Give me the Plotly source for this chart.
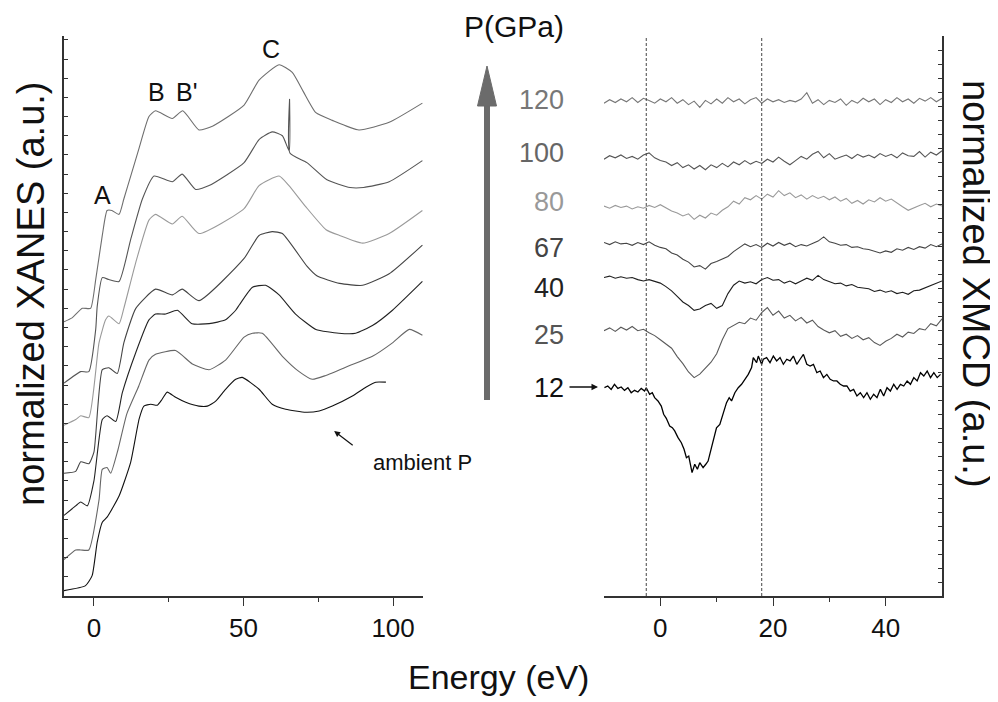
import plotly.graph_objects as go

# ---------------- XANES (left panel) ----------------
xanes_labels = ["120", "100", "80", "67", "40", "25", "ambient"]
xanes_colors = ["#6e6e6e", "#555555", "#9a9a9a", "#444444", "#222222", "#666666", "#111111"]

e_120 = [-10, -7.3, -3.9, -1.1, 0.6, 2.8, 4.4, 6.0, 8.4, 10.0, 12.5, 15.0, 18.4, 20.6, 26.2, 29.7, 35.1, 39.6,
         50.2, 55.2, 61.9, 66.3, 70.0, 74.2, 79.7, 88.6, 98.7, 109.8]
y_120 = [14.3, 14.5, 15.0, 15.0, 16.5, 18.8, 20.1, 20.1, 19.9, 20.7, 22.0, 23.3, 25.0, 25.3, 24.9, 25.3, 24.3, 24.5,
         25.6, 26.9, 27.7, 27.3, 26.3, 25.2, 24.8, 24.3, 24.7, 25.7]

e_100 = [-10, -4.4, -1.7, 0.6, 1.1, 2.8, 5.0, 8.4, 12.3, 16.2, 20.1, 26.2, 29.5, 34.0, 38.5, 50.2, 55.2, 59.6,
         63.0, 65.3, 65.4, 65.5, 71.2, 77.9, 85.6, 90.1, 98.7, 109.8]
y_100 = [11.1, 11.7, 11.7, 13.9, 15.1, 16.6, 16.5, 16.4, 18.6, 20.7, 21.9, 21.6, 22.0, 21.2, 21.4, 22.6, 23.8, 24.2,
         24.0, 23.2, 25.9, 23.1, 22.6, 21.7, 21.3, 21.3, 21.6, 22.7]

e_80 = [-10, -6.1, -4.4, -1.7, 1.7, 3.9, 5.0, 8.4, 10.0, 14.0, 18.4, 20.6, 26.2, 29.5, 35.1, 50.2, 55.2, 61.9,
        65.2, 70.8, 77.6, 82.1, 89.8, 98.7, 109.8]
y_80 = [8.9, 9.2, 9.4, 9.3, 13.2, 14.4, 14.6, 14.2, 15.0, 17.4, 19.6, 19.9, 19.4, 19.8, 18.9, 20.2, 21.4, 21.9,
        21.4, 20.3, 19.1, 18.8, 18.4, 18.9, 20.1]

e_67 = [-10, -6.1, -4.4, -1.7, 0.0, 2.8, 5.0, 7.8, 10.0, 14.0, 20.6, 26.2, 29.5, 35.1, 50.2, 55.2, 59.6, 63.0,
        71.2, 74.5, 82.1, 89.8, 98.7, 109.8]
y_67 = [6.4, 6.5, 7.0, 6.9, 7.5, 11.8, 11.9, 11.6, 13.2, 15.0, 16.0, 15.7, 16.0, 15.4, 17.6, 18.8, 19.0, 18.9,
        17.2, 16.7, 16.3, 16.2, 16.8, 18.3]

e_40 = [-10, -6.1, -4.4, -2.2, 0.0, 2.8, 4.4, 7.3, 9.5, 14.0, 18.4, 20.6, 24.0, 27.9, 32.8, 38.5, 44.0, 47.4,
        48.7, 53.0, 57.4, 61.9, 67.4, 74.2, 81.9, 87.5, 93.1, 99.8, 109.8]
y_40 = [4.2, 4.7, 4.9, 4.7, 6.0, 9.2, 9.4, 9.1, 10.6, 12.7, 14.4, 14.7, 14.7, 14.9, 14.2, 14.2, 14.4, 14.9,
        15.2, 16.1, 16.2, 15.7, 14.7, 13.9, 13.7, 13.7, 14.1, 14.9, 16.4]

e_25 = [-10, -6.1, -4.4, -1.7, 1.7, 2.8, 4.4, 5.6, 8.0, 11.0, 15.0, 18.4, 20.6, 27.3, 32.9, 38.5, 44.0, 50.2,
        53.0, 56.3, 63.0, 68.6, 73.0, 77.5, 85.3, 93.1, 99.8, 105.4, 109.8]
y_25 = [1.9, 2.4, 2.4, 2.4, 5.0, 6.6, 6.7, 6.4, 7.6, 9.5, 10.95, 12.3, 12.6, 12.8, 12.1, 11.8, 12.3, 13.5,
        13.7, 13.7, 12.5, 11.7, 11.3, 11.5, 12.0, 12.5, 13.2, 13.9, 13.6]

e_amb = [-10, -2.8, -0.6, 1.1, 2.8, 4.4, 8.4, 12.3, 15.1, 16.7, 19.0, 21.2, 22.8, 24.5, 27.3, 30.7, 35.1, 37.9,
         40.7, 44.0, 47.4, 49.6, 55.2, 59.6, 64.1, 70.8, 75.3, 79.7, 86.4, 90.9, 94.2, 97.6]
y_amb = [0.28, 0.54, 1.06, 2.81, 3.85, 4.11, 5.21, 6.98, 9.22, 9.9, 10.0, 9.95, 10.26, 10.63, 10.36, 10.1, 9.9, 9.9,
         10.16, 10.78, 11.3, 11.4, 10.78, 10.0, 9.74, 9.58, 9.65, 9.91, 10.43, 10.89, 11.15, 11.15]

xanes_e = [e_120, e_100, e_80, e_67, e_40, e_25, e_amb]
xanes_y = [y_120, y_100, y_80, y_67, y_40, y_25, y_amb]

# ---------------- XMCD (right panel) ----------------
xmcd_labels = ["120", "100", "80", "67", "40", "25", "12"]
xmcd_colors = ["#777777", "#555555", "#999999", "#444444", "#1e1e1e", "#5a5a5a", "#000000"]

# common energy grid (eV) for the 120 ... 25 GPa spectra
m_grid = [-10, -9, -8, -7, -6, -5, -4, -3, -2, -1, 0, 1, 2, 3, 4, 5, 6, 7, 8, 9, 10,
          11, 12, 13, 14, 15, 16, 17, 18, 19, 20, 21, 22, 23, 24, 25, 26, 27, 28, 29, 30,
          31, 32, 33, 34, 35, 36, 37, 38, 39, 40, 41, 42, 43, 44, 45, 46, 47, 48, 49, 50]

m_y_120 = [35.2, 35.45, 35.25, 35.5, 35.3, 35.6, 35.25, 35.55, 35.4, 35.2, 35.5, 35.3, 35.6, 35.2, 35.45,
           35.1, 35.35, 34.9, 35.4, 35.15, 35.5, 35.2, 35.6, 35.3, 35.5, 35.15, 35.45, 35.6, 35.2, 35.5,
           35.3, 35.45, 35.25, 35.4, 35.3, 35.5, 35.95, 35.2, 35.45, 35.1, 35.4, 35.25, 35.5, 35.05, 35.4,
           35.2, 35.55, 35.3, 35.5, 35.1, 35.45, 35.25, 35.6, 35.3, 35.5, 35.2, 35.55, 35.35, 35.6, 35.3, 35.55]

m_y_100 = [31.2, 31.45, 31.3, 31.5, 31.25, 31.4, 31.2, 31.5, 31.65, 31.3, 31.1, 31.0, 30.75, 30.95, 30.6,
           30.8, 30.5, 30.75, 30.45, 30.8, 30.6, 30.9, 30.65, 31.0, 30.8, 31.1, 30.85, 31.05, 30.9, 31.2,
           31.0, 31.35, 31.05, 30.8, 31.1, 31.4, 31.2, 31.55, 31.75, 31.3, 31.6, 31.2, 31.35, 31.5, 31.25,
           31.55, 31.35, 31.5, 31.3, 31.6, 31.4, 31.55, 31.3, 31.65, 31.45, 31.4, 31.75, 31.35, 31.7, 31.5, 31.8]

m_y_80 = [27.85, 27.7, 27.9, 27.75, 27.85, 27.65, 27.8, 27.7, 27.9, 27.75, 27.95, 27.7, 27.5, 27.35, 27.15,
          27.3, 26.9, 27.2, 27.0, 27.35, 27.2, 27.55, 27.8, 28.2, 28.0, 28.45, 28.3, 28.6, 28.35, 28.7,
          28.5, 28.95, 28.6, 28.8, 28.45, 28.65, 28.35, 28.6, 28.4, 28.55, 28.3, 28.5, 28.2, 28.4, 28.05,
          28.25, 28.0, 28.3, 28.15, 28.45, 28.2, 28.35, 28.05, 27.8, 27.55, 27.75, 27.9, 28.05, 27.8, 28.0, 27.85]

m_y_67 = [25.25, 25.1, 25.3, 25.15, 25.2, 25.05, 25.25, 25.1, 25.3, 25.05, 24.9, 24.8, 24.5, 24.35, 24.05,
          23.85, 23.5, 23.6, 23.35, 23.75, 23.9, 24.1, 24.25, 24.6, 24.85, 25.15, 24.95, 25.1, 24.9, 25.2,
          25.0, 25.25, 25.05, 25.2, 24.95, 25.1, 25.0, 25.2, 25.35, 25.65, 25.3, 25.2, 25.05, 25.1, 24.9,
          24.95, 24.8, 24.75, 24.6, 24.5, 24.65, 24.55, 24.8, 24.7, 24.9, 24.75, 24.95, 24.85, 25.1, 24.95, 25.15]

m_y_40 = [22.75, 22.85, 22.7, 22.8, 22.7, 22.75, 22.6, 22.5, 22.6, 22.45, 22.35, 22.1, 21.8, 21.4, 21.0,
          20.75, 20.4, 20.5, 20.75, 20.9, 20.55, 20.75, 21.6, 22.2, 22.5, 22.35, 22.45, 22.3, 22.6, 22.75,
          22.55, 22.6, 22.35, 22.5, 22.3, 22.5, 22.7, 22.55, 22.9, 22.6, 22.45, 22.3, 22.35, 22.15, 22.25,
          22.05, 22.0, 21.95, 21.75, 21.85, 21.7, 21.8, 21.6, 21.7, 21.55, 21.8, 21.85, 22.0, 22.2, 22.3, 22.5]

m_y_25 = [18.95, 19.15, 18.9, 19.2, 19.0, 19.25, 18.95, 19.05, 18.8, 18.6, 18.3, 18.0, 17.7, 17.1, 16.6,
          16.0, 15.6, 15.85, 16.3, 16.7, 17.3, 18.3, 19.1, 19.3, 19.55, 19.45, 19.85, 19.7, 20.25, 20.6,
          20.05, 20.35, 19.85, 20.05, 19.65, 19.9, 19.5, 19.7, 19.25, 19.0, 18.8, 18.95, 18.55, 18.7, 18.4,
          18.6, 18.3, 18.45, 18.1, 17.9, 18.2, 18.4, 18.7, 18.5, 18.85, 18.75, 19.1, 19.0, 19.45, 19.3, 19.8]

# 12 GPa spectrum read at finer steps
m_e_12 = [-9.92, -9.33, -8.73, -8.14, -7.54, -6.95, -6.36, -5.76, -5.17, -4.58, -3.98, -3.39, -2.80, -2.50,
          -1.90, -1.43, -1.01, -0.42, 0.17, 0.59, 1.06, 1.66, 2.13, 2.55, 3.14, 3.73, 4.21, 4.63, 5.04, 5.40,
          5.63, 6.11, 6.58, 7.00, 7.59, 8.07, 8.48, 9.08, 9.97, 10.56, 11.16, 11.75, 12.22, 12.64, 13.23,
          13.83, 14.42, 15.01, 15.61, 16.20, 16.50, 17.09, 17.39, 17.98, 18.28, 18.87, 19.47, 20.06, 20.65,
          21.25, 21.84, 22.44, 23.03, 23.62, 24.22, 24.81, 25.40, 26.00, 26.59, 27.18, 27.78, 28.37, 28.96,
          29.56, 30.15, 30.75, 31.34, 31.93, 32.53, 33.12, 33.71, 34.31, 34.90, 35.50, 36.09, 36.68, 37.28,
          37.87, 38.46, 39.06, 39.65, 40.24, 40.84, 41.43, 42.03, 42.62, 43.21, 43.81, 44.40, 44.99, 45.59,
          46.18, 46.77, 47.37, 47.96, 48.55, 49.15, 49.74]
m_y_12 = [14.88, 15.00, 14.76, 15.12, 14.83, 14.93, 14.69, 14.88, 14.52, 14.69, 14.57, 14.83, 14.64, 14.88,
          14.41, 14.52, 14.17, 13.93, 13.57, 12.98, 12.69, 12.14, 12.02, 11.79, 11.31, 10.95, 10.48, 9.88,
          10.00, 9.17, 8.81, 9.41, 9.05, 9.52, 9.17, 9.41, 9.64, 10.60, 12.02, 12.26, 12.98, 13.81, 14.17,
          13.93, 14.52, 14.88, 15.12, 15.48, 15.83, 16.31, 17.03, 16.67, 17.14, 16.55, 16.91, 17.03, 16.67,
          17.14, 16.79, 17.03, 16.55, 16.91, 16.79, 17.14, 16.55, 16.91, 17.26, 16.55, 16.43, 16.55, 15.95,
          16.07, 15.60, 15.83, 15.48, 15.36, 15.36, 15.12, 15.00, 15.00, 14.64, 14.76, 14.29, 14.52, 14.17,
          14.52, 14.05, 14.41, 14.17, 14.76, 14.29, 14.88, 14.64, 15.12, 14.76, 15.12, 15.00, 15.36, 15.12,
          15.60, 15.36, 15.95, 15.71, 16.07, 15.60, 15.95, 15.60, 15.83]

xmcd_e = [m_grid, m_grid, m_grid, m_grid, m_grid, m_grid, m_e_12]
xmcd_y = [m_y_120, m_y_100, m_y_80, m_y_67, m_y_40, m_y_25, m_y_12]

# guide lines (eV) in the XMCD panel
guide_energies = [-2.5, 18.0]

# peak labels on XANES
peak_labels = ["A", "B", "B'", "C"]
peak_e = [2.8, 20.9, 30.9, 59.1]
peak_y = [20.9, 26.3, 26.3, 28.5]

FONT = "Liberation Sans, Arial, Helvetica, sans-serif"
INK = "#111111"

fig = go.Figure()
for lab, col, xs, ys in zip(xanes_labels, xanes_colors, xanes_e, xanes_y):
    fig.add_trace(go.Scatter(x=xs, y=ys, mode="lines", name="XANES " + lab,
                             line=dict(color=col, width=1.1, shape="spline", smoothing=0.5),
                             xaxis="x", yaxis="y", showlegend=False))
for lab, col, xs, ys in zip(xmcd_labels, xmcd_colors, xmcd_e, xmcd_y):
    fig.add_trace(go.Scatter(x=xs, y=ys, mode="lines", name="XMCD " + lab,
                             line=dict(color=col, width=1.1 if lab != "12" else 1.3),
                             xaxis="x2", yaxis="y2", showlegend=False))

# Page offset: the HTML body has an 8px default margin.
# Plot area in page pixels: x 64..942, y 36..596
def px(xp):
    return (xp - 64) / 878.0

def py(yp):
    return (596 - yp) / 560.0

axis_common = dict(showline=True, linecolor="#333333", linewidth=1.5, showgrid=False, zeroline=False,
                   tickcolor="#333333", tickfont=dict(family=FONT, size=26, color=INK))

fig.update_layout(
    width=990, height=694,
    margin=dict(l=56, r=56, t=28, b=106),
    paper_bgcolor="white", plot_bgcolor="white",
    font=dict(family=FONT, color=INK),
    showlegend=False,
    xaxis=dict(domain=[0, px(423)], range=[-10, 110], tickvals=[0, 50, 100], ticks="outside", ticklen=8,
               tickwidth=1.2, anchor="y",
               minor=dict(tickvals=[25, 75], ticks="outside", ticklen=4, tickcolor="#333333"),
               **axis_common),
    yaxis=dict(domain=[0, 1], range=[0, 29.2], tick0=0, dtick=1, ticks="inside", ticklen=4, tickwidth=1,
               showticklabels=False, anchor="x", **axis_common),
    xaxis2=dict(domain=[px(604), 1], range=[-10, 50], tickvals=[0, 20, 40], ticks="outside", ticklen=8,
                tickwidth=1.2, anchor="y2",
                minor=dict(tickvals=[10, 30], ticks="outside", ticklen=4, tickcolor="#333333"),
                **axis_common),
    yaxis2=dict(domain=[0, 1], range=[0, 40], tick0=0, dtick=1, ticks="inside", ticklen=4, tickwidth=1,
                showticklabels=False, anchor="x2", side="right", **axis_common),
)

# dashed guide lines
for g in guide_energies:
    fig.add_shape(type="line", xref="x2", yref="paper", x0=g, x1=g, y0=0, y1=1,
                  line=dict(color="#444444", width=1, dash="3px,2px"))

# big pressure arrow
fig.add_shape(type="line", xref="paper", yref="paper", x0=px(487), x1=px(487), y0=py(400), y1=py(100),
              line=dict(color="#6b6b6b", width=6))
fig.add_shape(type="path", xref="paper", yref="paper",
              path=f"M {px(477.5)} {py(106)} L {px(487)} {py(66)} L {px(496.5)} {py(106)} Z",
              fillcolor="#6b6b6b", line=dict(color="#6b6b6b", width=1))

C = dict(xanchor="center", yanchor="middle")
ann = []
ann.append(dict(text="normalized XANES (a.u.)", x=px(31), y=py(294), xref="paper", yref="paper",
                textangle=-90, showarrow=False, font=dict(size=38, family=FONT, color=INK), **C))
ann.append(dict(text="normalized XMCD (a.u.)", x=px(976), y=py(284), xref="paper", yref="paper",
                textangle=90, showarrow=False, font=dict(size=38, family=FONT, color=INK), **C))
ann.append(dict(text="Energy (eV)", x=px(498), y=py(677), xref="paper", yref="paper",
                showarrow=False, font=dict(size=34, family=FONT, color=INK), **C))
ann.append(dict(text="P(GPa)", x=px(514), y=py(26), xref="paper", yref="paper",
                showarrow=False, font=dict(size=30, family=FONT, color=INK), **C))

label_ypx = [100, 153, 202, 248, 288, 335, 388]
label_cols = ["#777777", "#666666", "#999999", "#444444", "#222222", "#555555", "#111111"]
for lab, yp, col in zip(xmcd_labels, label_ypx, label_cols):
    ann.append(dict(text=lab, x=px(566), y=py(yp), xref="paper", yref="paper", xanchor="right",
                    yanchor="middle", showarrow=False, font=dict(size=27, family=FONT, color=col)))
ann.append(dict(text="", x=px(598), y=py(387), xref="paper", yref="paper", ax=-30, ay=0,
                showarrow=True, arrowhead=2, arrowsize=1, arrowwidth=1.3, arrowcolor=INK))

for t, e, yv in zip(peak_labels, peak_e, peak_y):
    ann.append(dict(text=t, x=e, y=yv, xref="x", yref="y", showarrow=False,
                    font=dict(size=25, family=FONT, color=INK), **C))

ann.append(dict(text="ambient P", x=px(422), y=py(462), xref="paper", yref="paper", showarrow=False,
                font=dict(size=22, family=FONT, color=INK), **C))
ann.append(dict(text="", x=80.3, y=8.6, xref="x", yref="y", ax=87.0, ay=7.8, axref="x", ayref="y",
                showarrow=True, arrowhead=2, arrowsize=1, arrowwidth=1.2, arrowcolor=INK))

fig.update_layout(annotations=ann)
fig.write_html("out.html")
